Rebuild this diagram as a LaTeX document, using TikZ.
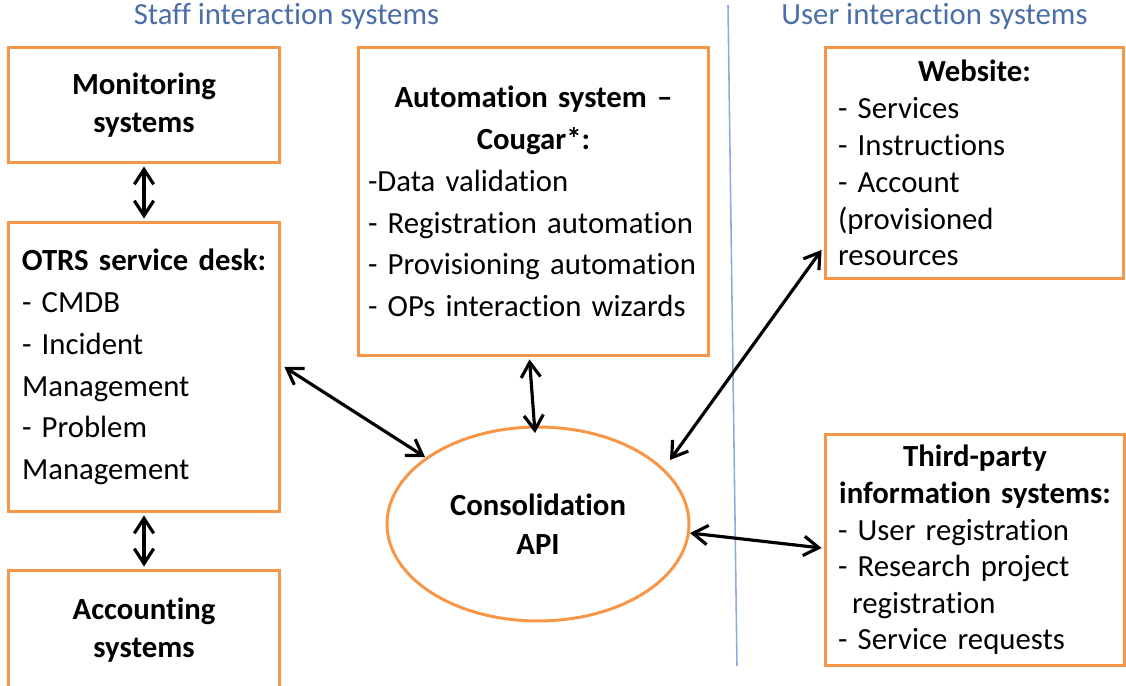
\documentclass[tikz,border=0pt]{standalone}
\usepackage{fontspec}
\setmainfont[Ligatures={NoCommon}]{Carlito}
\usetikzlibrary{arrows.meta,calc,shapes.geometric}
\definecolor{boxorange}{HTML}{F79646}
\definecolor{headblue}{HTML}{4A6FA8}
\definecolor{lineblue}{HTML}{8FAADC}
\newcommand{\ctr}[1]{\makebox[\hsize][c]{\textbf{#1}}}
\begin{document}
\begin{tikzpicture}[x=0.02cm,y=-0.02cm,
  box/.style={draw=boxorange,line width=1.7pt,rectangle,inner sep=0pt,fill=white,align=left},
  link/.style={line width=1.8pt,{Straight Barb[length=8.5pt,width=11pt]}-{Straight Barb[length=8.5pt,width=11pt]}},
  head/.style={text=headblue,font=\fontsize{17.5}{21}\selectfont,anchor=base,inner sep=0pt}]
\useasboundingbox (0,0) rectangle (1126,686);
\clip (0,0) rectangle (1126,686);

% headers and divider
\node[head] (hstaff) at (286.5,25) {Staff interaction systems};
\node[head] (huser) at (934.5,25) {User interaction systems};
\coordinate (dtop) at (728,5);
\coordinate (dbot) at (737,666);
\draw[lineblue,line width=0.9pt] (dtop) -- (dbot);

% boxes
\node[box,minimum width=5.44cm,minimum height=2.32cm,align=center,
  font=\fontsize{17.5}{21.5}\selectfont\bfseries] (mon) at (144,105) {Monitoring\\systems};

\node[box,minimum width=5.44cm,minimum height=5.8cm,text width=4.88cm,
  font=\fontsize{17.5}{23.8}\selectfont] (otrs) at (144,367)
  {\ctr{OTRS service desk:}\\- CMDB\\- Incident\\Management\\- Problem\\Management};

\node[box,minimum width=5.44cm,minimum height=2.4cm,align=center,
  font=\fontsize{17.5}{21.5}\selectfont\bfseries] (acc) at (144,630) {Accounting\\systems};

\node[box,minimum width=7.02cm,minimum height=6.18cm,text width=6.62cm,
  font=\fontsize{17.5}{23.8}\selectfont] (auto) at (533.5,201.5)
  {\ctr{Automation system --}\\\ctr{Cougar*:}\\-Data validation\\- Registration automation\\- Provisioning automation\\- OPs interaction wizards};

\node[box,minimum width=5.98cm,minimum height=4.64cm,text width=5.46cm,
  font=\fontsize{17.5}{21}\selectfont] (web) at (974.5,163)
  {\ctr{Website:}\\- Services\\- Instructions\\- Account\\(provisioned\\resources};

\node[box,minimum width=6.0cm,minimum height=4.64cm,text width=5.48cm,
  font=\fontsize{17.5}{20.8}\selectfont] (third) at (975,550)
  {\ctr{Third-party}\\\ctr{information systems:}\\- User registration\\- Research project\\\hspace*{8pt}registration\\- Service requests};

\node[draw=boxorange,line width=1.7pt,ellipse,inner sep=0pt,minimum width=6.04cm,minimum height=3.88cm,
  align=center,font=\fontsize{17.5}{22}\selectfont\bfseries] (api) at (538,524) {Consolidation\\API};

% connectors
\draw[link] ($(mon.south)+(0,2)$) -- ($(otrs.north)+(0,-2)$);
\draw[link] ($(otrs.south)+(0,2)$) -- ($(acc.north)+(0,-2)$);
\draw[link] ($(otrs.east)+(3,0)$) -- ($(api.center)+(-113,-67)$);
\draw[link] ($(auto.south)+(-4,2)$) -- ($(api.center)+(-3,-91)$);
\draw[link] ($(web.west)+(-2,87)$) -- ($(api.center)+(132,-64)$);
\draw[link] ($(api.center)+(152,9)$) -- ($(third.west)+(-2,-2)$);
\end{tikzpicture}
\end{document}
